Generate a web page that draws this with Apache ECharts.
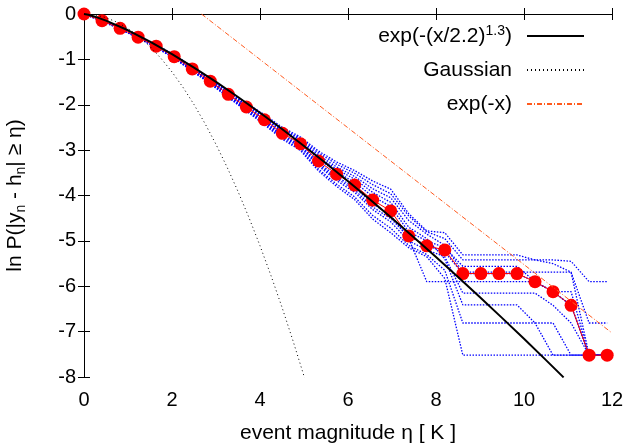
<!DOCTYPE html>
<html><head><meta charset="utf-8">
<script src="https://cdn.jsdelivr.net/npm/echarts@6/dist/echarts.min.js"></script>
<style>html,body{margin:0;padding:0;background:#fff}#c{width:626px;height:444px}</style>
</head><body><div id="c"></div>
<script>
// event magnitude grid (bins)
const etaBins = [0,0.41,0.82,1.23,1.64,2.05,2.46,2.87,3.28,3.69,4.10,4.51,4.92,5.33,5.74,6.15,6.56,6.97,7.38,7.79,8.20,8.61,9.02,9.43,9.84,10.25,10.66,11.07,11.48,11.89];
// mean ln P (red dots)
const meanLnP = [0,-0.148,-0.316,-0.51,-0.71,-0.94,-1.21,-1.48,-1.77,-2.05,-2.33,-2.63,-2.86,-3.24,-3.53,-3.77,-4.10,-4.34,-4.89,-5.11,-5.20,-5.72,-5.72,-5.72,-5.72,-5.90,-6.12,-6.42,-7.52,-7.52];
// individual realisations (blue dotted)
const run1 = [0,-0.14,-0.30,-0.49,-0.68,-0.90,-1.16,-1.42,-1.70,-1.96,-2.22,-2.50,-2.71,-3.02,-3.26,-3.45,-3.68,-3.86,-4.40,-4.78,-4.82,-5.31,-5.31,-5.31,-5.31,-5.42,-5.42,-5.45,-5.90,-5.90];
const run2 = [0,-0.14,-0.31,-0.50,-0.69,-0.92,-1.18,-1.44,-1.73,-2.00,-2.26,-2.55,-2.77,-3.11,-3.37,-3.58,-3.85,-4.05,-4.55,-4.85,-5.10,-5.69,-5.69,-5.69,-5.69,-5.69,-5.69,-5.69,-7.52,-7.52];
const run3 = [0,-0.15,-0.31,-0.51,-0.70,-0.93,-1.20,-1.47,-1.76,-2.03,-2.31,-2.60,-2.83,-3.20,-3.48,-3.71,-4.02,-4.24,-4.80,-5.00,-5.15,-5.56,-5.56,-5.56,-5.56,-5.90,-6.12,-6.12,-7.52,-7.52];
const run4 = [0,-0.15,-0.32,-0.51,-0.72,-0.95,-1.22,-1.49,-1.78,-2.07,-2.35,-2.66,-2.89,-3.28,-3.58,-3.83,-4.18,-4.44,-4.95,-5.90,-5.90,-5.90,-5.90,-5.90,-5.90,-5.90,-6.12,-6.42,-7.52,-7.52];
const run5 = [0,-0.15,-0.32,-0.52,-0.73,-0.96,-1.24,-1.51,-1.81,-2.10,-2.39,-2.70,-2.94,-3.35,-3.67,-3.93,-4.31,-4.58,-5.00,-5.20,-5.35,-6.15,-6.15,-6.15,-6.15,-6.15,-6.42,-6.81,-7.52,-7.52];
const run6 = [0,-0.14,-0.31,-0.50,-0.70,-0.92,-1.19,-1.46,-1.74,-2.01,-2.29,-2.58,-2.80,-3.15,-3.42,-3.64,-3.93,-4.15,-4.70,-4.95,-5.40,-6.41,-6.41,-6.41,-6.41,-6.81,-6.81,-7.52,-7.52,-7.52];
const run7 = [0,-0.16,-0.33,-0.53,-0.73,-0.97,-1.25,-1.53,-1.83,-2.12,-2.42,-2.73,-2.98,-3.42,-3.75,-4.03,-4.44,-4.72,-5.10,-5.30,-5.65,-6.81,-6.81,-6.81,-6.81,-6.81,-7.52,-7.52,-7.52,-7.52];
const run8 = [0,-0.16,-0.33,-0.53,-0.74,-0.98,-1.26,-1.54,-1.84,-2.14,-2.44,-2.76,-3.01,-3.46,-3.80,-4.09,-4.52,-4.82,-5.15,-5.35,-5.83,-7.52,-7.52,-7.52,-7.52,-7.52,-7.52,-7.52,-7.52,-7.52];
const run9 = [0,-0.15,-0.32,-0.52,-0.72,-0.95,-1.23,-1.50,-1.79,-2.08,-2.37,-2.68,-2.91,-3.32,-3.62,-3.88,-4.25,-4.51,-4.90,-5.10,-5.25,-5.72,-5.72,-5.72,-5.72,-5.90,-6.12,-6.42,-7.52,-7.52];
const run10 = [0,-0.14,-0.30,-0.49,-0.69,-0.91,-1.17,-1.43,-1.71,-1.98,-2.24,-2.53,-2.74,-3.06,-3.31,-3.51,-3.76,-3.96,-4.45,-4.80,-4.95,-5.42,-5.42,-5.42,-5.42,-5.42,-5.50,-5.69,-6.81,-6.81];
// stretched exponential exp(-(x/2.2)^1.3), sampled
const fitX = [0,0.1,0.25,0.5,1,1.5,2,2.5,3,3.5,4,4.5,5,5.5,6,6.5,7,7.5,8,8.5,9,9.5,10,10.5,10.9];
const fitY = [0,-0.018,-0.059,-0.146,-0.359,-0.608,-0.884,-1.181,-1.497,-1.829,-2.175,-2.535,-2.908,-3.291,-3.685,-4.089,-4.503,-4.925,-5.357,-5.796,-6.243,-6.697,-7.159,-7.628,-8.008];
// Gaussian, sampled
const gaussX = [0,0.25,0.5,0.75,1,1.25,1.5,1.75,2,2.25,2.5,2.75,3,3.25,3.5,3.75,4,4.25,4.5,4.75,5,5.02];
const gaussY = [0,-0.020,-0.080,-0.180,-0.319,-0.499,-0.718,-0.978,-1.277,-1.616,-1.995,-2.414,-2.873,-3.372,-3.910,-4.489,-5.107,-5.766,-6.463,-7.202,-7.980,-8.04];
// exp(-x) reference line
const expX = [2.67,12];
const expY = [0,-7.03];
// ticks
const xTicks = {min:0,max:12,step:2};
const yTicks = {min:-8,max:0,step:1};

const pair = (xs, ys) => xs.map((x,i)=>[x, ys[i]]);
const runs = [run1,run2,run3,run4,run5,run6,run7,run8,run9,run10];
const FONT = 'Liberation Sans, Arial, sans-serif';

const blueSeries = runs.map((r,i)=>({
  type:'line', name:'run'+(i+1), data: pair(etaBins, r), symbol:'none',
  lineStyle:{color:'#0000ff', width:1.3, type:[1.5,1.5]}, z:1, silent:true, animation:false
}));

const axisCommon = {
  axisLine:{show:true, lineStyle:{color:'#000', width:1}},
  axisTick:{show:true, inside:true, length:6, lineStyle:{color:'#000'}},
  splitLine:{show:false}
};

const chart = echarts.init(document.getElementById('c'), null, {renderer:'canvas'});
chart.setOption({
  animation:false,
  backgroundColor:'#fff',
  grid:{left:84, right:14, top:14, bottom:67, outerBoundsMode:'none', containLabel:false},
  xAxis:[
    Object.assign({type:'value', min:xTicks.min, max:xTicks.max, interval:xTicks.step, position:'bottom',
      name:'event magnitude η [ K ]', nameLocation:'middle', nameGap:46,
      nameTextStyle:{fontSize:21, fontFamily:FONT, color:'#000'},
      axisLabel:{fontSize:20, fontFamily:FONT, color:'#000', margin:13}}, axisCommon),
    Object.assign({type:'value', min:xTicks.min, max:xTicks.max, interval:xTicks.step, position:'top',
      axisLabel:{show:false}}, axisCommon)
  ],
  yAxis:[
    Object.assign({type:'value', min:yTicks.min, max:yTicks.max, interval:yTicks.step, position:'left',
      name:'ln P(|y{sub|n} - h{sub|n}| ≥ η)', nameLocation:'middle', nameGap:56, nameRotate:90,
      nameTextStyle:{fontSize:21, fontFamily:FONT, color:'#000',
        rich:{sub:{fontSize:14, fontFamily:FONT, color:'#000', verticalAlign:'bottom', padding:[12,0,0,0]}}},
      axisLabel:{fontSize:20, fontFamily:FONT, color:'#000', margin:8}}, axisCommon),
    Object.assign({type:'value', min:yTicks.min, max:yTicks.max, interval:yTicks.step, position:'right',
      axisLabel:{show:false}}, axisCommon)
  ],
  legend:{
    orient:'vertical', right:36, top:19, align:'right', itemWidth:57, itemHeight:14, itemGap:10,
    itemStyle:{opacity:0},
    data:[{name:'fit'},{name:'Gaussian'},{name:'exp(-x)'}],
    formatter: n => n==='fit' ? 'exp(-(x/2.2){sup|1.3})' : n,
    textStyle:{fontSize:21, fontFamily:FONT, color:'#000', lineHeight:24, padding:[0,10,0,0],
      rich:{sup:{fontSize:14, fontFamily:FONT, color:'#000', verticalAlign:'top', lineHeight:24, padding:[0,0,10,0]}}}
  },
  series: blueSeries.concat([
    {type:'line', name:'mean', data: pair(etaBins, meanLnP), symbol:'circle', symbolSize:13,
      itemStyle:{color:'#ff0000'}, lineStyle:{color:'#ff0000', width:1}, z:3},
    {type:'line', name:'fit', data: pair(fitX, fitY), symbol:'none',
      lineStyle:{color:'#000', width:2}, itemStyle:{color:'#000'}, z:4},
    {type:'line', name:'Gaussian', data: pair(gaussX, gaussY), symbol:'none',
      lineStyle:{color:'#000', width:1, type:[1,3]}, itemStyle:{color:'#000'}, z:4},
    {type:'line', name:'exp(-x)', data: pair(expX, expY), symbol:'none',
      lineStyle:{color:'#ff5a1e', width:1, type:[5,2,1,2]}, itemStyle:{color:'#ff5a1e'}, z:4}
  ])
});
</script></body></html>
